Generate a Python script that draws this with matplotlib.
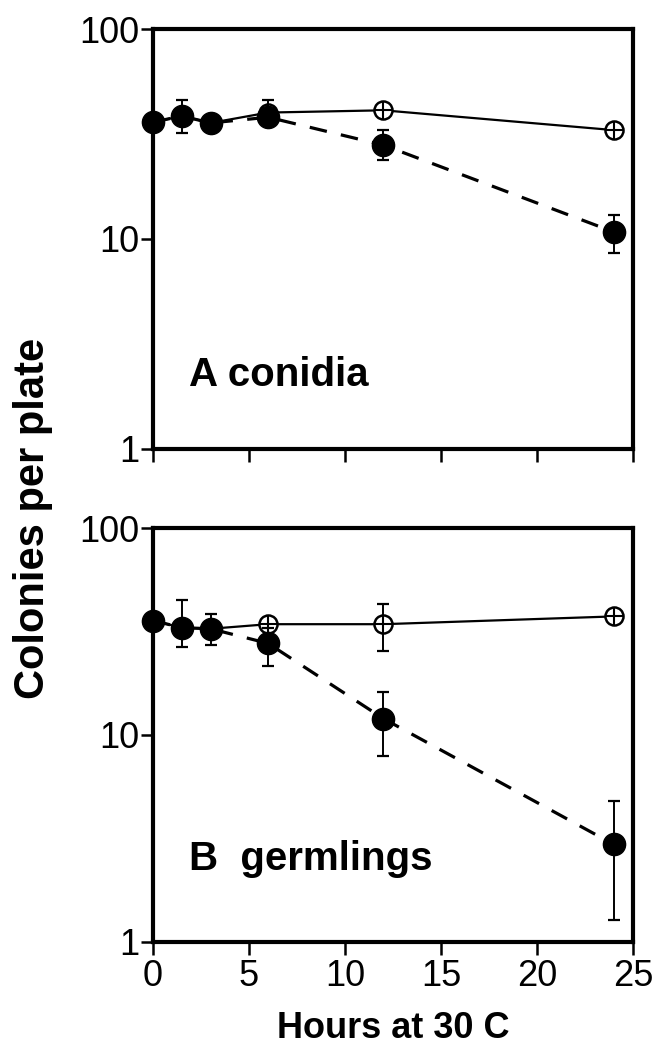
import numpy as np
import matplotlib
matplotlib.use("Agg")
import matplotlib.pyplot as plt
from matplotlib.ticker import FixedLocator, NullLocator, FixedFormatter

# sampling times (hours at 30 C)
hours = [0, 1.5, 3, 6, 12, 24]

# panel A, conidia
a_filled = [36, 38.5, 35.7, 38, 28, 10.8]
a_filled_lo = [34, 32, 33, 35, 23.8, 8.6]
a_filled_hi = [38, 46, 38, 41, 33, 13]
a_open = [36, 38.5, 35.7, 40, 41, 33]
a_open_lo = [35, 37, 34.5, 37, 39, 31]
a_open_hi = [37, 40, 37, 46, 43, 35]

# panel B, germlings
b_filled = [35.7, 33, 32.6, 27.7, 12, 2.96]
b_filled_lo = [34, 26.7, 27.2, 21.5, 7.9, 1.28]
b_filled_hi = [37.5, 45, 38.6, 33, 16.2, 4.78]
b_open = [35.7, 33, 32.6, 34.3, 34.3, 37.4]
b_open_lo = [34.5, 32, 31.5, 33, 25.4, 35.5]
b_open_hi = [37, 34, 34, 36, 43, 39.5]

y_ticks = [1, 10, 100]
y_ticklabels = ["1", "10", "100"]
x_ticks = [0, 5, 10, 15, 20, 25]
x_ticklabels = ["0", "5", "10", "15", "20", "25"]

tick_font = ["Liberation Sans", "DejaVu Sans"]
bold_font = ["Liberation Sans", "DejaVu Sans"]

fig = plt.figure(figsize=(6.56, 10.47), dpi=100)
ax_a = fig.add_axes([0.2332, 0.5712, 0.7317, 0.4011])
ax_b = fig.add_axes([0.2332, 0.1003, 0.7317, 0.3954])


def draw_panel(ax, filled, f_lo, f_hi, opened, o_lo, o_hi, label, label_y, show_x):
    x = np.array(hours)
    f = np.array(filled)
    o = np.array(opened)
    # open circles, solid line
    ax.errorbar(x, o, yerr=[o - np.array(o_lo), np.array(o_hi) - o],
                fmt="none", ecolor="black", elinewidth=1.4, capsize=4.5,
                capthick=1.6, zorder=2)
    ax.plot(x, o, color="black", lw=1.6, zorder=2)
    ax.plot(x, o, "o", ms=13, mfc="white", mec="black", mew=1.8, zorder=3)
    ax.plot(x, o, "+", ms=13, color="black", mew=1.5, zorder=3)
    # filled circles, dashed line
    ax.errorbar(x, f, yerr=[f - np.array(f_lo), np.array(f_hi) - f],
                fmt="none", ecolor="black", elinewidth=1.4, capsize=4.5,
                capthick=1.6, zorder=4)
    ax.plot(x, f, color="black", lw=2.3, dashes=(5.5, 4.5), zorder=4)
    ax.plot(x, f, "o", ms=16, mfc="black", mec="black", zorder=5, clip_on=False)

    ax.set_yscale("log")
    ax.set_ylim(1, 100)
    ax.set_xlim(0, 25)
    ax.yaxis.set_major_locator(FixedLocator(y_ticks))
    ax.yaxis.set_major_formatter(FixedFormatter(y_ticklabels))
    ax.yaxis.set_minor_locator(NullLocator())
    ax.xaxis.set_major_locator(FixedLocator(x_ticks))
    ax.xaxis.set_minor_locator(NullLocator())
    if show_x:
        ax.set_xticklabels(x_ticklabels)
    else:
        ax.set_xticklabels([])
    ax.tick_params(axis="both", direction="out", length=9, width=1.8,
                   labelsize=26, pad=1)
    ax.tick_params(axis="x", pad=3)
    for t in ax.get_xticklabels() + ax.get_yticklabels():
        t.set_family(tick_font)
    for s in ax.spines.values():
        s.set_linewidth(3)
    ax.text(0.075, label_y, label, transform=ax.transAxes, fontsize=29,
            fontweight="bold", family=bold_font, va="center", ha="left")


draw_panel(ax_a, a_filled, a_filled_lo, a_filled_hi,
           a_open, a_open_lo, a_open_hi, "A conidia", 0.175, False)
draw_panel(ax_b, b_filled, b_filled_lo, b_filled_hi,
           b_open, b_open_lo, b_open_hi, "B  germlings", 0.2, True)

fig.text(0.05, 0.505, "Colonies per plate", rotation=90, fontsize=30,
         fontweight="bold", family=bold_font, va="center", ha="center")
fig.text(0.6, 0.018, "Hours at 30 C", fontsize=26, fontweight="bold",
         family=bold_font, va="center", ha="center")

fig.savefig("out.png", dpi=100)
